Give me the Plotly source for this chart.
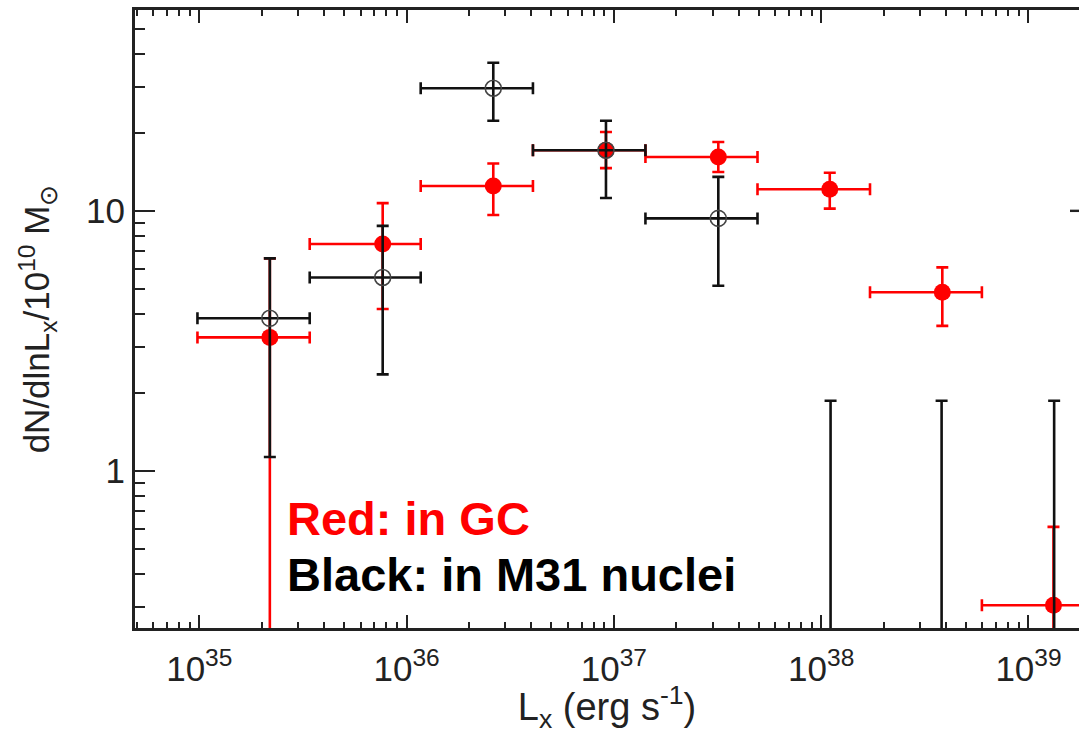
import plotly.graph_objects as go
import numpy as np

# ---- data ----
# bins shared by both samples (luminosity, erg/s)
bin_x      = [2.19e35, 7.67e35, 2.62e36, 9.16e36, 3.19e37, 1.10e38, 3.84e38, 1.32e39]
bin_lo     = [9.8e34, 3.41e35, 1.17e36, 4.07e36, 1.42e37, 4.93e37, 1.72e38, 5.96e38]
bin_hi     = [3.41e35, 1.17e36, 4.07e36, 1.42e37, 4.93e37, 1.72e38, 5.96e38, 2.04e39]

# Red: in GC
red_y      = [3.26, 7.45, 12.45, 17.1, 16.1, 12.1, 4.86, 0.304]
red_y_hi   = [6.56, 10.7, 15.2, 20.1, 18.4, 14.0, 6.06, 0.609]
red_y_lo   = [0.05, 4.19, 9.63, 14.6, 14.1, 10.2, 3.61, 0.05]

# Black: in M31 nuclei (first five bins detected)
blk_x      = [2.19e35, 7.67e35, 2.62e36, 9.16e36, 3.19e37]
blk_y      = [3.86, 5.54, 29.6, 17.1, 9.35]
blk_y_hi   = [6.56, 8.75, 37.1, 22.2, 13.5]
blk_y_lo   = [1.13, 2.35, 22.2, 11.2, 5.15]

# Black upper limits (no detection)
ul_x       = [1.11e38, 3.81e38, 1.33e39]
ul_floor   = [0.05, 0.05, 0.05]
ul_top     = [1.86, 1.86, 1.86]

x_tick_vals = [1e35, 1e36, 1e37, 1e38, 1e39]
x_tick_text = ["10<sup>35</sup>", "10<sup>36</sup>", "10<sup>37</sup>", "10<sup>38</sup>", "10<sup>39</sup>"]
y_tick_vals = [1, 10]
y_tick_text = ["1", "10"]

RED = "#ff0000"
BLK = "#111111"

bx = np.array(bin_x)
rx_plus = np.array(bin_hi) - bx
rx_minus = bx - np.array(bin_lo)
ry = np.array(red_y)

n = len(blk_x)
by = np.array(blk_y)

fig = go.Figure()

fig.add_trace(go.Scatter(
    x=bin_x, y=red_y, mode="markers", name="Red: in GC",
    marker=dict(symbol="circle", size=17, color=RED),
    error_x=dict(type="data", symmetric=False, array=rx_plus, arrayminus=rx_minus,
                 color=RED, thickness=2.6, width=6),
    error_y=dict(type="data", symmetric=False, array=np.array(red_y_hi) - ry,
                 arrayminus=ry - np.array(red_y_lo), color=RED, thickness=2.6, width=6),
    showlegend=False, cliponaxis=True,
))

fig.add_trace(go.Scatter(
    x=blk_x, y=blk_y, mode="markers", name="Black: in M31 nuclei",
    marker=dict(symbol="circle-open", size=16, color="#444444", line=dict(width=1.6)),
    error_x=dict(type="data", symmetric=False, array=rx_plus[:n], arrayminus=rx_minus[:n],
                 color=BLK, thickness=2.6, width=6),
    error_y=dict(type="data", symmetric=False, array=np.array(blk_y_hi) - by,
                 arrayminus=by - np.array(blk_y_lo), color=BLK, thickness=2.6, width=6),
    showlegend=False, cliponaxis=True,
))

fig.add_trace(go.Scatter(
    x=ul_x, y=ul_floor, mode="markers", name="upper limits",
    marker=dict(size=1, color="rgba(0,0,0,0)"),
    error_y=dict(type="data", symmetric=False, array=np.array(ul_top) - np.array(ul_floor),
                 arrayminus=[0, 0, 0], color=BLK, thickness=2.6, width=6),
    showlegend=False, cliponaxis=True,
))

FONT = "Liberation Sans"
ymin, ymax = np.log10(0.2486), np.log10(59.2)
xmin, xmax = 34.69, 39.2437

fig.update_layout(
    width=1079, height=734,
    margin=dict(l=135, r=0, t=10, b=106),
    paper_bgcolor="white", plot_bgcolor="white",
    font=dict(family=FONT, color="#222222", size=34),
    xaxis=dict(
        type="log", range=[xmin, xmax],
        tickvals=x_tick_vals, ticktext=x_tick_text,
        ticks="inside", ticklen=13, tickwidth=2.4, tickcolor="#222222",
        showline=True, linewidth=3, linecolor="#222222", mirror="allticks",
        showgrid=False, zeroline=False,
        tickfont=dict(size=35), ticklabelstandoff=8,
        minor=dict(ticks="inside", ticklen=6, tickwidth=2, tickcolor="#222222",
                   dtick="D1", showgrid=False),
        title=dict(text="L<sub>x</sub> (erg s<sup>-1</sup>)", font=dict(size=38), standoff=2),
    ),
    yaxis=dict(
        type="log", range=[ymin, ymax],
        tickvals=y_tick_vals, ticktext=y_tick_text,
        ticks="inside", ticklen=20, tickwidth=2.4, tickcolor="#222222",
        showline=True, linewidth=3, linecolor="#222222", mirror=False,
        showgrid=False, zeroline=False,
        tickfont=dict(size=35),
        minor=dict(ticks="inside", ticklen=10, tickwidth=2, tickcolor="#222222",
                   dtick="D1", showgrid=False),
        title=dict(text="dN/dlnL<sub>x</sub>/10<sup>10</sup> M<sub>⊙</sub>", font=dict(size=35), standoff=26),
    ),
    annotations=[
        dict(text="<b>Red: in GC</b>", x=35.413, y=-0.182, xref="x", yref="y",
             xanchor="left", yanchor="middle", showarrow=False,
             font=dict(family="Liberation Sans", size=47, color=RED)),
        dict(text="<b>Black: in M31 nuclei</b>", x=35.413, y=-0.397, xref="x", yref="y",
             xanchor="left", yanchor="middle", showarrow=False,
             font=dict(family="Liberation Sans", size=47, color="#000000")),
    ],
    shapes=[
        dict(type="line", xref="paper", yref="y domain",
             x0=(1070 - 135) / 944, x1=1.0, y0=0.675, y1=0.675,
             line=dict(color="#222222", width=2.4)),
    ],
)

fig.write_html("out.html")
